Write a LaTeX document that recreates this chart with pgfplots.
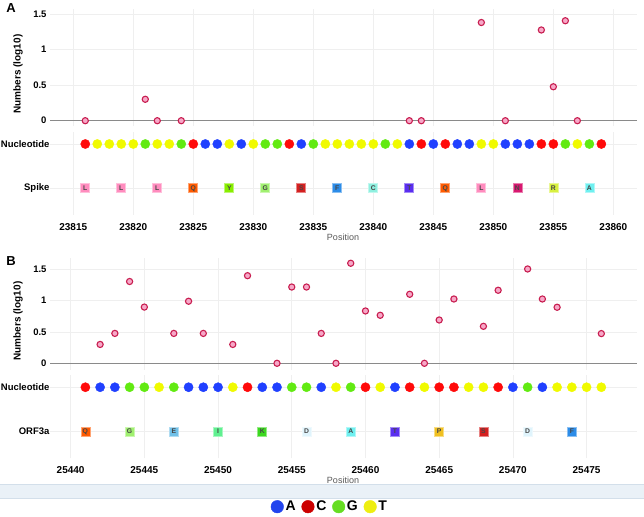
\documentclass[border=0pt]{standalone}
\usepackage{fontspec}
\setmainfont{Liberation Sans}
\usepackage{pgfplots}
\pgfplotsset{compat=1.18}
\definecolor{nucA}{HTML}{2040FF}
\definecolor{nucC}{HTML}{FF0A0A}
\definecolor{nucG}{HTML}{62EA12}
\definecolor{nucT}{HTML}{F0FA00}
\definecolor{legA}{HTML}{2244EE}
\definecolor{legC}{HTML}{CC0000}
\definecolor{legG}{HTML}{66DD22}
\definecolor{legT}{HTML}{EEEE11}
\definecolor{ptfill}{HTML}{F7A8C8}
\definecolor{ptdraw}{HTML}{C81E50}
\definecolor{gridc}{HTML}{EFEFEF}
\definecolor{basec}{HTML}{8A8A8A}
\definecolor{bandc}{HTML}{EAF1F7}
\definecolor{bandl}{HTML}{D3DFEA}
\definecolor{aaL}{HTML}{FF8CBE}
\definecolor{aaQ}{HTML}{FF5A00}
\definecolor{aaY}{HTML}{88EE00}
\definecolor{aaG}{HTML}{A0F070}
\definecolor{aaS}{HTML}{D42020}
\definecolor{aaF}{HTML}{2C8CE8}
\definecolor{aaC}{HTML}{8FF0E0}
\definecolor{aaT}{HTML}{5A2EF0}
\definecolor{aaN}{HTML}{D81870}
\definecolor{aaR}{HTML}{D8F040}
\definecolor{aaA}{HTML}{6FF0F0}
\definecolor{aaE}{HTML}{70C0E8}
\definecolor{aaI}{HTML}{60F090}
\definecolor{aaK}{HTML}{3CD820}
\definecolor{aaD}{HTML}{E0F4FC}
\definecolor{aaP}{HTML}{F0C020}
\newcommand{\codon}[3]{%
  \addplot[only marks, mark=square*, mark size=4.5pt,
    mark options={fill=#2, draw=#2!55!white, line width=0.7pt},
    nodes near coords={#1},
    every node near coord/.style={anchor=center, inner sep=0pt,
      font=\fontsize{6.8}{7}\selectfont\bfseries, text=black!72}]
    coordinates {#3};}
\pgfplotsset{
  base/.style={scale only axis, width=587pt, axis line style={draw=none},
    major tick length=0pt, tick style={draw=none}, grid=major,
    grid style={color=gridc, line width=0.6pt},
    scaled ticks=false,
    ticklabel style={font=\bfseries\fontsize{10}{12}\selectfont},
    xticklabel style={/pgf/number format/fixed, /pgf/number format/precision=0},
    /pgf/number format/assume math mode=true,
    /pgf/number format/1000 sep={}, clip=false},
  scat/.style={base, ytick={0.5,1,1.5}, extra y ticks={0},
    extra y tick style={major grid style={draw=basec, line width=1.1pt}},
    yticklabel style={font=\bfseries\fontsize{9.5}{11}\selectfont},
    xticklabels={}},
  rows/.style={base, ymin=-0.6, ymax=1.28, ytick={0,1},
    yticklabel style={xshift=3pt, font=\bfseries\fontsize{9.5}{11}\selectfont},
    xticklabel style={yshift=-5pt}},
  pts/.style={only marks, mark=*, mark size=3.1pt,
    mark options={fill=ptfill, draw=ptdraw, line width=1.1pt}},
  nuc/.style={only marks, mark=*, mark size=4.6pt, color=#1}
}
\begin{document}
\begin{tikzpicture}
\useasboundingbox (0pt,0pt) rectangle (644pt,516pt);
% ---------- Panel A scatter ----------
\begin{axis}[scat, at={(50pt,389.6pt)}, anchor=south west, height=117.4pt,
  xmin=23813.06, xmax=23861.97, ymin=-0.08, ymax=1.57,
  xtick={23815,23820,...,23860}]
\addplot[pts] coordinates {(23816,0) (23821,0.301) (23822,0) (23824,0)
  (23843,0) (23844,0) (23849,1.38) (23851,0) (23854,1.275) (23855,0.477)
  (23856,1.405) (23857,0)};
\end{axis}
% ---------- Panel A rows ----------
\begin{axis}[rows, at={(50pt,301.1pt)}, anchor=south west, height=83.3pt,
  xmin=23813.06, xmax=23861.97, xtick={23815,23820,...,23860},
  yticklabels={Spike,Nucleotide}]
\addplot[nuc=nucA] coordinates {(23826,1) (23827,1) (23829,1) (23834,1)
  (23843,1) (23845,1) (23847,1) (23848,1) (23851,1) (23852,1) (23853,1)};
\addplot[nuc=nucC] coordinates {(23816,1) (23825,1) (23833,1) (23844,1)
  (23846,1) (23854,1) (23855,1) (23859,1)};
\addplot[nuc=nucG] coordinates {(23821,1) (23824,1) (23831,1) (23832,1)
  (23835,1) (23841,1) (23856,1) (23858,1)};
\addplot[nuc=nucT] coordinates {(23817,1) (23818,1) (23819,1) (23820,1)
  (23822,1) (23823,1) (23828,1) (23830,1) (23836,1) (23837,1) (23838,1)
  (23839,1) (23840,1) (23842,1) (23849,1) (23850,1) (23857,1)};
\codon{L}{aaL}{(23816,0) (23819,0) (23822,0) (23849,0)}
\codon{Q}{aaQ}{(23825,0) (23846,0)}
\codon{Y}{aaY}{(23828,0)}
\codon{G}{aaG}{(23831,0)}
\codon{S}{aaS}{(23834,0)}
\codon{F}{aaF}{(23837,0)}
\codon{C}{aaC}{(23840,0)}
\codon{T}{aaT}{(23843,0)}
\codon{N}{aaN}{(23852,0)}
\codon{R}{aaR}{(23855,0)}
\codon{A}{aaA}{(23858,0)}
\end{axis}
% ---------- Panel B scatter ----------
\begin{axis}[scat, at={(50pt,145.8pt)}, anchor=south west, height=112.2pt,
  xmin=25438.6, xmax=25478.42, ymin=-0.11, ymax=1.68,
  xtick={25440,25445,...,25475}]
\addplot[pts] coordinates {(25442,0.301) (25443,0.477) (25444,1.305)
  (25445,0.897) (25447,0.477) (25448,0.99) (25449,0.477) (25451,0.301)
  (25452,1.398) (25454,0) (25455,1.217) (25456,1.217) (25457,0.477)
  (25458,0) (25459,1.596) (25460,0.835) (25461,0.766) (25463,1.101)
  (25464,0) (25465,0.691) (25466,1.026) (25468,0.59) (25469,1.165)
  (25471,1.505) (25472,1.026) (25473,0.894) (25476,0.474)};
\end{axis}
% ---------- Panel B rows ----------
\begin{axis}[rows, at={(50pt,57.7pt)}, anchor=south west, height=83.5pt,
  xmin=25438.6, xmax=25478.42, xtick={25440,25445,...,25475},
  yticklabels={ORF3a,Nucleotide}]
\addplot[nuc=nucA] coordinates {(25442,1) (25443,1) (25448,1) (25449,1)
  (25450,1) (25453,1) (25454,1) (25457,1) (25462,1) (25470,1) (25472,1)};
\addplot[nuc=nucC] coordinates {(25441,1) (25452,1) (25460,1) (25463,1)
  (25465,1) (25466,1) (25469,1)};
\addplot[nuc=nucG] coordinates {(25444,1) (25445,1) (25447,1) (25455,1)
  (25456,1) (25459,1) (25471,1)};
\addplot[nuc=nucT] coordinates {(25446,1) (25451,1) (25458,1) (25461,1)
  (25464,1) (25467,1) (25468,1) (25473,1) (25474,1) (25475,1) (25476,1)};
\codon{Q}{aaQ}{(25441,0)}
\codon{G}{aaG}{(25444,0)}
\codon{E}{aaE}{(25447,0)}
\codon{I}{aaI}{(25450,0)}
\codon{K}{aaK}{(25453,0)}
\codon{D}{aaD}{(25456,0) (25471,0)}
\codon{A}{aaA}{(25459,0)}
\codon{T}{aaT}{(25462,0)}
\codon{P}{aaP}{(25465,0)}
\codon{S}{aaS}{(25468,0)}
\codon{F}{aaF}{(25474,0)}
\end{axis}
% ---------- legend ----------
\begin{axis}[hide axis, scale only axis, width=10pt, height=10pt,
  at={(330pt,9.3pt)}, anchor=center, xmin=0, xmax=1, ymin=0, ymax=1,
  legend columns=4,
  legend image code/.code={\path[draw=none, fill=none] (0pt,-6.3pt) rectangle (12.6pt,6.3pt);
    \draw[#1, only marks] plot coordinates {(6.3pt,0pt)};},
  legend style={at={(0.5,0.5)}, anchor=center, draw=none, fill=none,
    font=\bfseries\fontsize{14}{16}\selectfont,
    nodes={inner sep=2pt},
    /tikz/every even column/.append style={column sep=4pt}}]
\addlegendimage{only marks, mark=*, mark size=6.3pt, color=legA}
\addlegendentry{A}
\addlegendimage{only marks, mark=*, mark size=6.3pt, color=legC}
\addlegendentry{C}
\addlegendimage{only marks, mark=*, mark size=6.3pt, color=legG}
\addlegendentry{G}
\addlegendimage{only marks, mark=*, mark size=6.3pt, color=legT}
\addlegendentry{T}
\end{axis}
% ---------- band, titles, labels ----------
\fill[bandc] (0pt,17.7pt) rectangle (644pt,31.7pt);
\draw[bandl, line width=0.8pt] (0pt,31.7pt) -- (644pt,31.7pt);
\draw[bandl, line width=0.8pt] (0pt,17.7pt) -- (644pt,17.7pt);
\node[font=\bfseries\fontsize{13}{15}\selectfont] at (11pt,508pt) {A};
\node[font=\bfseries\fontsize{13}{15}\selectfont] at (11pt,255pt) {B};
\node[rotate=90, font=\bfseries\fontsize{10}{12}\selectfont] at (18pt,442pt) {Numbers (log10)};
\node[rotate=90, font=\bfseries\fontsize{10}{12}\selectfont] at (18pt,195pt) {Numbers (log10)};
\node[font=\fontsize{9}{11}\selectfont, text=black!65] at (343pt,279pt) {Position};
\node[font=\fontsize{9}{11}\selectfont, text=black!65] at (343pt,36pt) {Position};
\end{tikzpicture}
\end{document}
